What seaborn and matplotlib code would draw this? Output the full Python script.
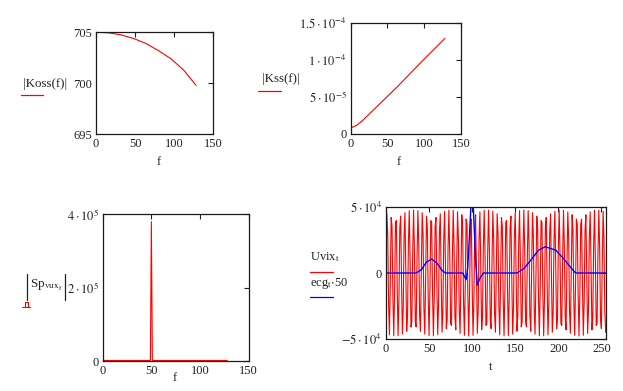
import numpy as np
import pandas as pd
import matplotlib
matplotlib.use("Agg")
import matplotlib.pyplot as plt
import seaborn as sns
from matplotlib.lines import Line2D

# ---------------- data ----------------
koss_f = [0, 16, 32, 48, 64, 80, 96, 112, 128]
koss_v = [705.0, 704.95, 704.75, 704.4, 703.9, 703.2, 702.4, 701.3, 699.8]

kss_f = [0, 8, 16, 32, 64, 96, 128]
kss_v = [0.75e-5, 1.1e-5, 1.75e-5, 3.3e-5, 6.4e-5, 9.7e-5, 1.29e-4]

sp_f = [0, 49, 50, 51, 128]
sp_v = [1500, 1500, 380000, 1500, 1500]

# Uvix_t samples (in thousands), t = 0..255
uvix_k = [
    0, 44.7, 30.1, -24.4, -46.6, -7.0, 41.9, 35.2, -18.2, -47.4, -13.8, 38.2, 39.5, -11.5, -47.3, -20.3,
    33.6, 42.9, -4.7, -46.1, -26.4, 28.3, 45.5, 2.3, -43.9, -31.9, 22.4, 47.0, 9.3, -40.7, -36.7, 16.0,
    47.5, 16.0, -36.7, -40.7, 9.3, 47.0, 22.4, -31.9, -43.9, 2.3, 45.5, 28.3, -26.4, -46.1, -4.7, 42.9,
    33.6, -20.3, -47.3, -11.5, 39.5, 38.2, -13.8, -47.4, -18.2, 35.2, 41.9, -7.0, -46.6, -24.4, 30.1, 44.7,
    0, -44.7, -30.1, 24.4, 46.6, 7.0, -41.9, -35.2, 18.2, 47.4, 13.8, -38.2, -39.5, 11.5, 47.3, 20.3,
    -33.6, -42.9, 4.7, 46.1, 26.4, -28.3, -45.5, -2.3, 43.9, 31.9, -22.4, -47.0, -9.3, 40.7, 36.7, -16.0,
    -47.5, -16.0, 36.7, 40.7, -9.3, -47.0, -22.4, 31.9, 43.9, -2.3, -45.5, -28.3, 26.4, 46.1, 4.7, -42.9,
    -33.6, 20.3, 47.3, 11.5, -39.5, -38.2, 13.8, 47.4, 18.2, -35.2, -41.9, 7.0, 46.6, 24.4, -30.1, -44.7,
    0, 44.7, 30.1, -24.4, -46.6, -7.0, 41.9, 35.2, -18.2, -47.4, -13.8, 38.2, 39.5, -11.5, -47.3, -20.3,
    33.6, 42.9, -4.7, -46.1, -26.4, 28.3, 45.5, 2.3, -43.9, -31.9, 22.4, 47.0, 9.3, -40.7, -36.7, 16.0,
    47.5, 16.0, -36.7, -40.7, 9.3, 47.0, 22.4, -31.9, -43.9, 2.3, 45.5, 28.3, -26.4, -46.1, -4.7, 42.9,
    33.6, -20.3, -47.3, -11.5, 39.5, 38.2, -13.8, -47.4, -18.2, 35.2, 41.9, -7.0, -46.6, -24.4, 30.1, 44.7,
    0, -44.7, -30.1, 24.4, 46.6, 7.0, -41.9, -35.2, 18.2, 47.4, 13.8, -38.2, -39.5, 11.5, 47.3, 20.3,
    -33.6, -42.9, 4.7, 46.1, 26.4, -28.3, -45.5, -2.3, 43.9, 31.9, -22.4, -47.0, -9.3, 40.7, 36.7, -16.0,
    -47.5, -16.0, 36.7, 40.7, -9.3, -47.0, -22.4, 31.9, 43.9, -2.3, -45.5, -28.3, 26.4, 46.1, 4.7, -42.9,
    -33.6, 20.3, 47.3, 11.5, -39.5, -38.2, 13.8, 47.4, 18.2, -35.2, -41.9, 7.0, 46.6, 24.4, -30.1, -44.7,
]

ecg_t = [0, 35, 41, 47, 53, 59, 65, 69, 89, 93, 95, 97, 100, 102, 104, 106, 109, 113,
         152, 160, 168, 177, 185, 197, 206, 214, 220, 255]
ecg50 = [0, 0, 2500, 8300, 10500, 7600, 2000, 0, 0, -5000, 5000, 30000, 70000, 40000, 10000, -9300, -4000, 0,
         0, 3300, 9600, 17200, 19800, 17200, 10900, 4500, 0, 0]

# ---------------- style ----------------
sns.set_theme(style="white")
plt.rcParams["font.family"] = ["Liberation Serif", "DejaVu Serif"]
plt.rcParams["mathtext.fontset"] = "stix"

W, H = 623, 391
fig = plt.figure(figsize=(W / 100, H / 100), dpi=100)
fig.patch.set_facecolor("white")


def rect(l, t, r, b):
    return [l / W, 1 - b / H, (r - l) / W, (b - t) / H]


def fx(x):
    return x / W


def fy(y):
    return 1 - y / H


TXT = "#222222"
FS = 9


def style(ax):
    ax.set_facecolor("white")
    for s in ax.spines.values():
        s.set_visible(True)
        s.set_linewidth(0.9)
        s.set_color("#1a1a1a")
    ax.tick_params(direction="in", length=3.6, width=0.8, top=True, right=True,
                   labelsize=FS, colors=TXT, pad=3)
    ax.set_xlabel("")
    ax.set_ylabel("")
    ax.grid(False)


def figline(xs, ys, color, lw=0.9):
    fig.add_artist(Line2D([fx(v) for v in xs], [fy(v) for v in ys], color=color, lw=lw,
                          transform=fig.transFigure))


def legline(x0, x1, y, color):
    figline([x0, x1], [y, y], color)


# ---- plot 1: |Koss(f)| ----
ax1 = fig.add_axes(rect(96, 32.3, 213.3, 134.3))
sns.lineplot(x=koss_f, y=koss_v, ax=ax1, color="red", linewidth=0.8, estimator=None)
ax1.set_xlim(0, 150)
ax1.set_ylim(695, 705)
ax1.set_xticks([0, 50, 100, 150])
ax1.set_yticks([695, 700, 705])
style(ax1)
fig.text(fx(45.5), fy(83.5), "|Koss(f)|", ha="center", va="center", fontsize=FS + 0.3, color=TXT)
legline(20.7, 42.7, 95, "red")
fig.text(fx(159), fy(161.5), "f", ha="center", va="center", fontsize=FS, color=TXT)

# ---- plot 2: |Kss(f)| ----
ax2 = fig.add_axes(rect(350.7, 23, 461, 133.5))
sns.lineplot(x=kss_f, y=kss_v, ax=ax2, color="red", linewidth=0.8, estimator=None)
ax2.set_xlim(0, 150)
ax2.set_ylim(0, 1.5e-4)
ax2.set_xticks([0, 50, 100, 150])
ax2.set_yticks([0, 5e-5, 1e-4, 1.5e-4])
ax2.set_yticklabels(["0", r"$5\cdot10^{-5}$", r"$1\cdot10^{-4}$", r"$1.5\cdot10^{-4}$"])
style(ax2)
fig.text(fx(281), fy(79), "|Kss(f)|", ha="center", va="center", fontsize=FS + 0.3, color=TXT)
legline(258, 280.7, 90.7, "red")
fig.text(fx(399), fy(161.5), "f", ha="center", va="center", fontsize=FS, color=TXT)
fig.text(fx(376), fy(2.5), "f", ha="center", va="bottom", fontsize=FS, color="#555555")

# ---- plot 3: |Sp_vux_f| ----
ax3 = fig.add_axes(rect(102.7, 214.3, 248.7, 361))
sns.lineplot(x=sp_f, y=sp_v, ax=ax3, color="red", linewidth=0.8, estimator=None)
ax3.set_xlim(0, 150)
ax3.set_ylim(0, 4e5)
ax3.set_xticks([0, 50, 100, 150])
ax3.set_yticks([0, 2e5, 4e5])
ax3.set_yticklabels(["0", r"$2\cdot10^{5}$", r"$4\cdot10^{5}$"])
style(ax3)
figline([26.7, 26.7], [274, 300], TXT, lw=0.9)
figline([65.3, 65.3], [274, 300], TXT, lw=0.9)
fig.text(fx(29.5), fy(288), r"Sp$_{\mathrm{vux}_{\mathrm{f}}}$", ha="left", va="baseline",
         fontsize=FS + 0.5, color=TXT)
figline([22.3, 30.0], [306.5, 306.5], "red", lw=0.8)
figline([24.5, 24.5, 27.8, 27.8], [306.5, 301.5, 301.5, 306.5], "red", lw=0.8)
fig.text(fx(175), fy(378), "f", ha="center", va="center", fontsize=FS, color=TXT)

# ---- plot 4: Uvix_t and ecg_t*50 ----
ax4 = fig.add_axes(rect(386, 206.7, 605.7, 339.3))
t = np.arange(len(uvix_k))
sns.lineplot(x=t, y=np.array(uvix_k) * 1000, ax=ax4, color="red", linewidth=0.8, estimator=None)
sns.lineplot(x=ecg_t, y=ecg50, ax=ax4, color="blue", linewidth=1.0, estimator=None)
ax4.set_xlim(0, 255)
ax4.set_ylim(-5e4, 5e4)
ax4.set_xticks([0, 50, 100, 150, 200, 250])
ax4.set_yticks([-5e4, 0, 5e4])
ax4.set_yticklabels([r"$-5\cdot10^{4}$", "0", r"$5\cdot10^{4}$"])
style(ax4)
fig.text(fx(310.5), fy(257), r"Uvix$_{\mathrm{t}}$", ha="left", va="center", fontsize=FS, color=TXT)
legline(310, 332.7, 272, "red")
fig.text(fx(310.5), fy(283.5), r"ecg$_{\mathrm{t}}$$\cdot$50", ha="left", va="center", fontsize=FS, color=TXT)
legline(310, 332.7, 296.7, "blue")
fig.text(fx(491), fy(367.5), "t", ha="center", va="center", fontsize=FS, color=TXT)

fig.savefig("out.png", dpi=100, facecolor="white")
